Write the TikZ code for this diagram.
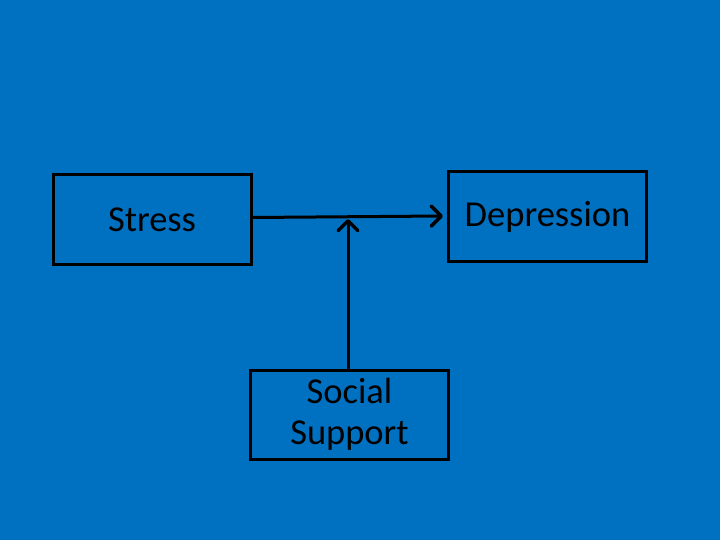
\documentclass[tikz,border=0pt]{standalone}
\usepackage{fontspec}
\setmainfont{Carlito}
\usetikzlibrary{arrows.meta}
\definecolor{bg}{HTML}{0070C0}
\begin{document}
\begin{tikzpicture}[x=1pt,y=-1pt,
  box/.style={draw=black,line width=3pt,fill=bg,minimum width=198pt,minimum height=89pt,inner sep=0pt,align=center,font=\fontsize{36.5}{41}\selectfont,text=black},
  conn/.style={draw=black,line width=3pt,-{Straight Barb[length=10pt,width=20pt,line width=3.5pt,round]}}]
\fill[bg] (0,0) rectangle (720,540);
\useasboundingbox (0,0) rectangle (720,540);
\node[box] (stress) at (152,219.5) {Stress};
\node[box] (dep) at (547.5,216.5) {Depression};
\node[box] (soc) at (349.5,414.5) {Social\\Support};
\coordinate (mid) at (348,219);
\coordinate (tip) at (443,216);
\draw[conn] (stress.east |- 0,217.5) -- (tip);
\draw[conn] (soc.north -| mid) -- (mid);
\end{tikzpicture}
\end{document}
